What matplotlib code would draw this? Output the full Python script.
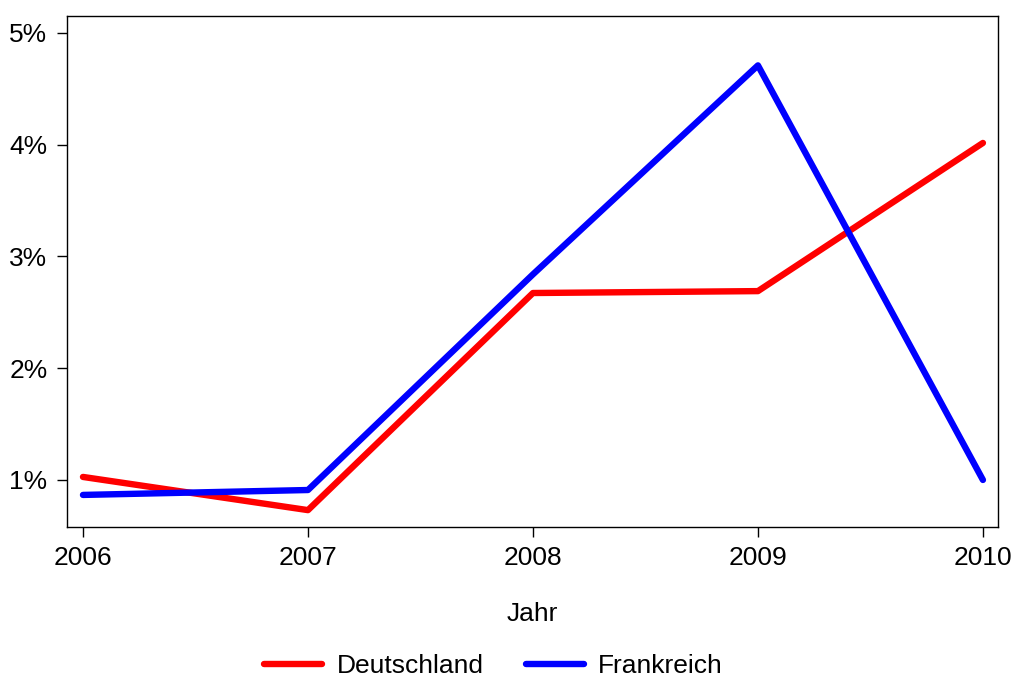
import matplotlib
matplotlib.use("Agg")
import matplotlib.pyplot as plt
from matplotlib.ticker import FuncFormatter

years = [2006, 2007, 2008, 2009, 2010]
deutschland = [1.027, 0.73, 2.673, 2.69, 4.016]
frankreich = [0.866, 0.91, 2.84, 4.71, 1.0]
yticks = [1, 2, 3, 4, 5]

plt.rcParams['font.family'] = ['Liberation Sans', 'DejaVu Sans']

fig = plt.figure(figsize=(10.14, 6.79), dpi=100)
ax = fig.add_axes([67/1014, 1-527/679, (998-67)/1014, (527-16)/679])
ax.plot(years, deutschland, color='#ff0000', lw=4.6, label='Deutschland', solid_capstyle='round')
ax.plot(years, frankreich, color='#0000ff', lw=4.6, label='Frankreich', solid_capstyle='round')

ax.set_xlim(2005.929, 2010.067)
ax.set_ylim(0.579, 5.152)
ax.set_xticks(years)
ax.set_yticks(yticks)
ax.yaxis.set_major_formatter(FuncFormatter(lambda v, p: f"{v:.0f}%"))
ax.tick_params(direction='out', length=7, width=1, labelsize=19, pad=7)
for s in ax.spines.values():
    s.set_linewidth(1)
ax.set_xlabel('Jahr', fontsize=19, labelpad=23)

leg = fig.legend(loc='center', bbox_to_anchor=(493.5/1014, 1-666/679), ncol=2, frameon=False,
                 fontsize=19, handlelength=2.2, columnspacing=1.6, handletextpad=0.55)

fig.savefig('out.png', dpi=100)
